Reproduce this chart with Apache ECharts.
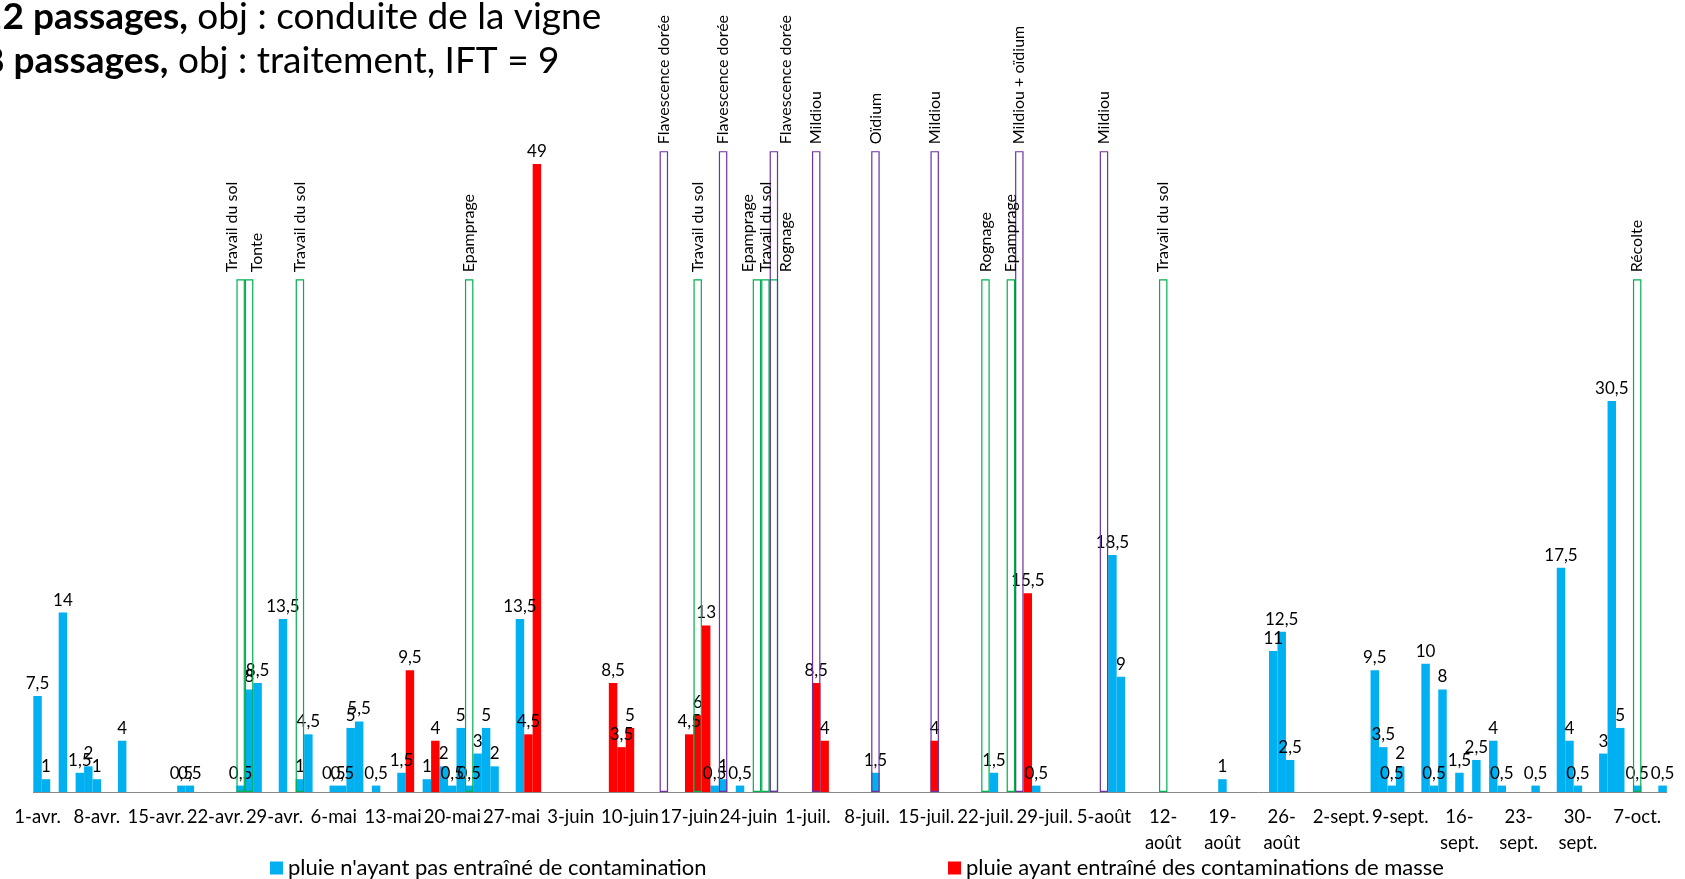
<!DOCTYPE html>
<html><head><meta charset="utf-8">
<script src="https://cdn.jsdelivr.net/npm/echarts@6/dist/echarts.min.js"></script>
<style>html,body{margin:0;padding:0;background:#fff}#c{width:1685px;height:879px}</style>
</head><body><div id="c"></div>
<script>
// ---- data ----
const mois = [['avr.',30],['mai',31],['juin',30],['juil.',31],['août',31],['sept.',30],['oct.',10]];
const tickLabels = ['1-avr.','8-avr.','15-avr.','22-avr.','29-avr.','6-mai','13-mai','20-mai','27-mai','3-juin','10-juin','17-juin','24-juin','1-juil.','8-juil.','15-juil.','22-juil.','29-juil.','5-août','12-\naoût','19-\naoût','26-\naoût','2-sept.','9-sept.','16-\nsept.','23-\nsept.','30-\nsept.','7-oct.'];
const nomSansContamination = "pluie n'ayant pas entraîné de contamination";
const nomContamination = "pluie ayant entraîné des contaminations de masse";
const pluieSansContamination = [
 ['1-avr.',7.5],['2-avr.',1],['4-avr.',14],['6-avr.',1.5],['7-avr.',2],['8-avr.',1],['11-avr.',4],
 ['18-avr.',0.5],['19-avr.',0.5],['25-avr.',0.5],['26-avr.',8],['27-avr.',8.5],['30-avr.',13.5],
 ['2-mai',1],['3-mai',4.5],['6-mai',0.5],['7-mai',0.5],['8-mai',5],['9-mai',5.5],['11-mai',0.5],
 ['14-mai',1.5],['17-mai',1],['19-mai',2],['20-mai',0.5],['21-mai',5],['22-mai',0.5],['23-mai',3],
 ['24-mai',5],['25-mai',2],['28-mai',13.5],['20-juin',0.5],['21-juin',1],['23-juin',0.5],
 ['9-juil.',1.5],['23-juil.',1.5],['28-juil.',0.5],['6-août',18.5],['7-août',9],['19-août',1],
 ['25-août',11],['26-août',12.5],['27-août',2.5],['6-sept.',9.5],['7-sept.',3.5],['8-sept.',0.5],
 ['9-sept.',2],['12-sept.',10],['13-sept.',0.5],['14-sept.',8],['16-sept.',1.5],['18-sept.',2.5],
 ['20-sept.',4],['21-sept.',0.5],['25-sept.',0.5],['28-sept.',17.5],['29-sept.',4],['30-sept.',0.5],
 ['3-oct.',3],['4-oct.',30.5],['5-oct.',5],['7-oct.',0.5],['10-oct.',0.5]
];
const pluieContamination = [
 ['15-mai',9.5],['18-mai',4],['29-mai',4.5],['30-mai',49],['8-juin',8.5],['9-juin',3.5],['10-juin',5],
 ['17-juin',4.5],['18-juin',6],['19-juin',13],['2-juil.',8.5],['3-juil.',4],['16-juil.',4],['27-juil.',15.5]
];
const passagesConduite = [
 ['25-avr.','Travail du sol'],['26-avr.','Tonte'],['2-mai','Travail du sol'],['22-mai','Epamprage'],
 ['18-juin','Travail du sol'],['25-juin','Epamprage'],['26-juin','Travail du sol'],['27-juin','Rognage'],
 ['22-juil.','Rognage'],['25-juil.','Epamprage'],['12-août','Travail du sol'],['7-oct.','Récolte']
];
const passagesTraitement = [
 ['14-juin','Flavescence dorée'],['21-juin','Flavescence dorée'],['27-juin','Flavescence dorée'],
 ['2-juil.','Mildiou'],['9-juil.','Oïdium'],['16-juil.','Mildiou'],['26-juil.','Mildiou + oïdium'],['5-août','Mildiou']
];
const hauteurConduite = 40;
const hauteurTraitement = 50;
const titreLigne1 = ['12 passages,', ' obj : conduite de la vigne'];
const titreLigne2 = ['8 passages,', ' obj : traitement, IFT = 9'];

// ---- styling helpers (not data) ----
const decalageEtiquettes = {'25-avr.': -9, '26-avr.': 8, '25-juin': -9, '27-juin': 12};
const FONT = 'Lato';

const categories = [];
mois.forEach(([m, n]) => { for (let d = 1; d <= n; d++) categories.push(d + '-' + m); });

function serie(list) {
  const arr = categories.map(() => '-');
  list.forEach(([d, v]) => { arr[categories.indexOf(d)] = v; });
  return arr;
}
function passages(list, h) {
  const arr = categories.map(() => '-');
  list.forEach(([d, nom]) => {
    const sh = decalageEtiquettes[d] || 0;
    arr[categories.indexOf(d)] = {value: h, label: {formatter: nom, offset: [0, sh]}};
  });
  return arr;
}
const fmt = p => String(p.value).replace('.', ',');

const rainLabel = {show: true, position: 'top', distance: 4, formatter: fmt,
  fontFamily: FONT, fontSize: 17, color: '#000'};
const boxLabel = {show: true, position: 'top', distance: 7, rotate: 90, align: 'left',
  verticalAlign: 'middle', fontFamily: FONT, fontSize: 16, color: '#000'};
const titleRich = {b: {fontFamily: FONT, fontSize: 37, fontWeight: 'bold', fill: '#000'},
  n: {fontFamily: FONT, fontSize: 37, fill: '#000'}};

const chart = echarts.init(document.getElementById('c'), null, {renderer: 'canvas'});
chart.setOption({
  animation: false,
  backgroundColor: '#fff',
  grid: {left: 33.3, right: 18.2, top: 23, bottom: 87, containLabel: false},
  xAxis: {
    type: 'category', data: categories, boundaryGap: true,
    axisLine: {lineStyle: {color: '#8a8a8a', width: 1}},
    axisTick: {interval: 6, length: 7, lineStyle: {color: '#8a8a8a'}},
    axisLabel: {interval: 6, formatter: (v, i) => tickLabels[i / 7], fontFamily: FONT, fontSize: 18.5,
      color: '#000', margin: 12, lineHeight: 26}
  },
  yAxis: {type: 'value', min: 0, max: 60, show: false},
  legend: [
    {data: [nomSansContamination], left: 265, top: 852, icon: 'rect', itemWidth: 13, itemHeight: 13,
      selectedMode: false, textStyle: {fontFamily: FONT, fontSize: 22, color: '#000'}},
    {data: [nomContamination], left: 943, top: 852, icon: 'rect', itemWidth: 13, itemHeight: 13,
      selectedMode: false, textStyle: {fontFamily: FONT, fontSize: 22, color: '#000'}}
  ],
  graphic: [
    {type: 'text', x: -19, y: 17, style: {text: '{b|' + titreLigne1[0] + '}{n|' + titreLigne1[1] + '}',
      verticalAlign: 'middle', rich: titleRich}},
    {type: 'text', x: -17, y: 61, style: {text: '{b|' + titreLigne2[0] + '}{n|' + titreLigne2[1] + '}',
      verticalAlign: 'middle', rich: titleRich}}
  ],
  series: [
    {name: nomSansContamination, type: 'bar', data: serie(pluieSansContamination), barGap: '-100%',
      barCategoryGap: '0%', itemStyle: {color: '#00B0F0'}, label: rainLabel},
    {name: nomContamination, type: 'bar', data: serie(pluieContamination), barGap: '-100%',
      barCategoryGap: '0%', itemStyle: {color: '#FF0000'}, label: rainLabel},
    {name: 'conduite', type: 'bar', data: passages(passagesConduite, hauteurConduite), barGap: '-100%',
      barCategoryGap: '0%', itemStyle: {color: 'rgba(0,0,0,0)', borderColor: '#00B050', borderWidth: 1.2},
      label: boxLabel, z: 3},
    {name: 'traitement', type: 'bar', data: passages(passagesTraitement, hauteurTraitement), barGap: '-100%',
      barCategoryGap: '0%', itemStyle: {color: 'rgba(0,0,0,0)', borderColor: '#7030A0', borderWidth: 1.2},
      label: boxLabel, z: 3}
  ]
});
</script>
</body></html>
